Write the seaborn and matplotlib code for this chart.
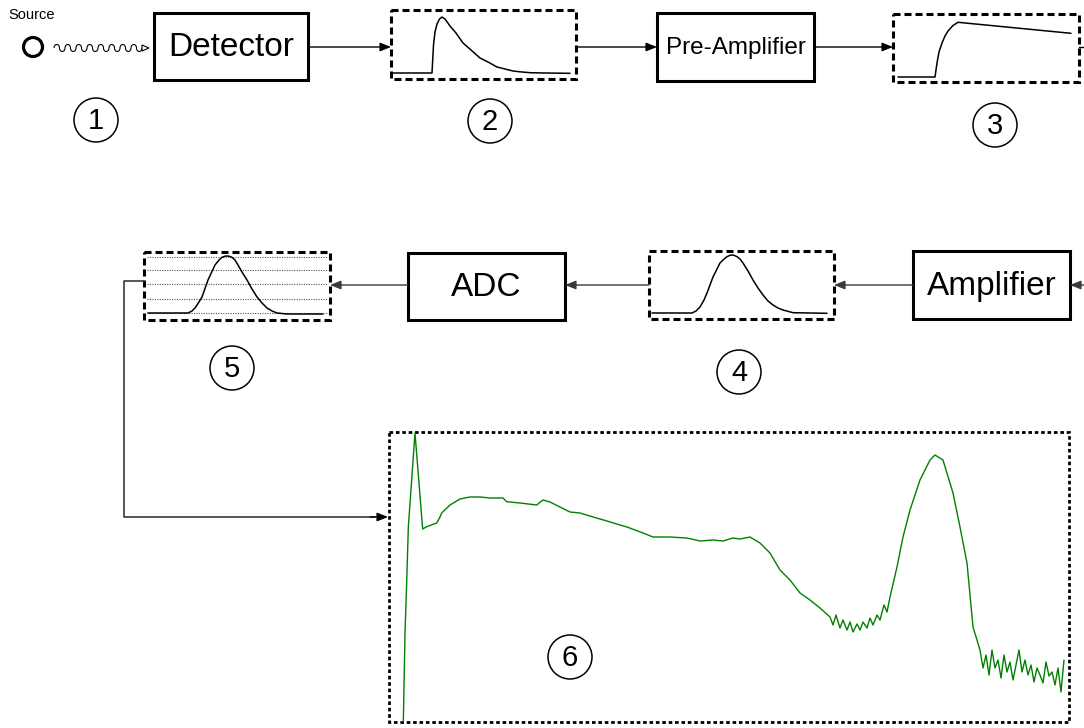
import matplotlib
matplotlib.use("Agg")
import matplotlib.pyplot as plt
from matplotlib.patches import Rectangle, Circle, Arc, Polygon
import seaborn as sns

# ---------------- data ----------------
# schematic pulse shapes (pixel-space sketch points)
pulse2_x = [393, 432, 432.7, 433.5, 435, 437, 439.5, 442, 445, 450, 456, 463, 471, 480,
            488, 497, 505, 513, 520, 530, 545, 570]
pulse2_y = [73, 73, 60, 45, 32, 24, 19, 17, 19, 26, 33, 43, 50, 58, 62, 67, 69, 71,
            71.8, 72.7, 73, 73.3]

pulse3_x = [898, 935, 936, 937, 939, 942, 945, 948, 953, 958, 1071]
pulse3_y = [77, 77, 70, 63, 52, 43, 36, 31, 25.5, 22.3, 33.3]

gauss4_x = [652, 692, 696, 700, 704, 707, 713, 720, 724, 727, 730, 732, 734, 737, 740, 743,
            748, 753, 758, 763, 768, 773, 778, 783, 793, 827]
gauss4_y = [313, 313, 311, 307, 300, 293, 277, 263, 259, 256.7, 255.3, 255, 255.3, 256.7,
            259, 263, 271, 280, 288, 295, 301, 305, 308, 310, 312.7, 313.3]

gauss5_x = [148, 188, 192, 195, 199, 202, 208, 215, 219, 222, 225, 227, 229, 232, 235, 238,
            242, 247, 252, 257, 262, 267, 272, 277, 287, 323]
gauss5_y = [313, 313, 311, 308, 302, 297, 280, 265, 260, 257.3, 256.2, 256, 256.2, 257.3,
            260, 265, 272, 280, 289, 297, 303, 308, 311, 313, 314, 314]
adc_levels = [257, 270, 284, 299, 313]

# measured spectrum (channel, counts)
channel = [21.5, 24, 26.5, 29, 39, 50.5, 56.5, 71.5, 76.5, 79, 91.5, 106.5, 121.5, 136.5,
           151.5, 171, 176.5, 196.5, 221.5, 231, 241.5, 256.5, 271.5, 286.5, 306, 327,
           346.5, 357, 381, 396, 421.5, 447, 466.5, 486, 501, 516, 526.5, 541.5, 556.5,
           571.5, 586.5, 601.5, 616.5, 631.5, 646.5,
           661.5, 666, 670.5, 676.5, 681, 687, 691.5, 696, 702, 706.5, 711, 717, 721.5,
           726, 732, 736.5, 742.5, 747,
           751.5, 762, 771, 781.5, 796.5, 811.5, 819, 831, 846, 856.5, 867, 876, 882,
           886.5, 891, 895.5, 900, 904.5, 909, 913.5, 918, 922.5, 927, 931.5, 936, 940.5,
           945, 949.5, 954, 958.5, 963, 967.5, 972, 976.5, 981, 985.5, 990, 994.5, 999,
           1003.5, 1008, 1012.5]
counts = [0, 890, 1390, 1950, 2890, 1930, 1953, 1990, 2050, 2090, 2170, 2230, 2250, 2250,
          2240, 2240, 2203, 2190, 2170, 2220, 2200, 2150, 2100, 2090, 2050, 2010,
          1970, 1950, 1890, 1850, 1850, 1840, 1810, 1820, 1810, 1840, 1830, 1850, 1790,
          1690, 1520, 1420, 1290, 1220, 1140,
          1050, 970, 1070, 940, 1020, 920, 1000, 900, 980, 920, 1000, 940, 1040,
          970, 1070, 1020, 1170, 1100,
          1250, 1550, 1850, 2120, 2420, 2620, 2670, 2620, 2290, 1950, 1590, 950, 820,
          720, 540, 670, 470, 720, 540, 620, 440, 670, 500, 600, 420, 570,
          720, 500, 620, 470, 570, 400, 540, 470, 390, 600, 460, 500, 370,
          540, 300, 620]

box_labels = ["Detector", "Pre-Amplifier", "Amplifier", "ADC"]
step_labels = ["1", "2", "3", "4", "5", "6"]

# ---------------- style ----------------
sns.set_theme(style="white")
plt.rcParams["font.family"] = ["Liberation Sans", "DejaVu Sans"]

W, H = 1084, 728
fig = plt.figure(figsize=(W / 100, H / 100), dpi=100)
ax = fig.add_axes([0, 0, 1, 1])
ax.set_axis_off()

BOX_LW = 2.2
DASH = (0, (2.3, 1.3))


def solid_box(x0, y0, x1, y1, label, fs):
    ax.add_patch(Rectangle((x0, y0), x1 - x0, y1 - y0, fill=False, ec="black", lw=BOX_LW))
    ax.text((x0 + x1) / 2, (y0 + y1) / 2 + 1, label, ha="center", va="center",
            fontsize=fs, color="black")


def dashed_box(x0, y0, x1, y1, lw=BOX_LW, ls=DASH):
    ax.add_patch(Rectangle((x0, y0), x1 - x0, y1 - y0, fill=False, ec="black", lw=lw,
                           linestyle=ls))


def arrow(x0, y0, x1, y1, color="black"):
    ax.annotate("", xy=(x1, y1), xytext=(x0, y0),
                arrowprops=dict(arrowstyle="-|>,head_length=0.5,head_width=0.2",
                                color=color, lw=1.0, mutation_scale=13,
                                shrinkA=0, shrinkB=0))


def step(cx, cy, label):
    ax.add_patch(Circle((cx, cy), 22, fill=False, ec="black", lw=1.1))
    ax.text(cx, cy + 1, label, ha="center", va="center", fontsize=21, color="black")


# Source
ax.text(8, 15, "Source", ha="left", va="center", fontsize=10.5, color="black")
ax.add_patch(Circle((33, 47), 9.5, fill=False, ec="black", lw=2.3))
for i in range(16):
    cx = 54 + i * 5.5 + 2.75
    if i % 2 == 0:
        ax.add_patch(Arc((cx, 48), 5.5, 7, theta1=180, theta2=360, color="black", lw=0.8))
    else:
        ax.add_patch(Arc((cx, 48), 5.5, 7, theta1=0, theta2=180, color="black", lw=0.8))
ax.add_patch(Polygon([(142, 45), (149, 48), (142, 51)], closed=True,
                     fc="white", ec="black", lw=0.8))

# Row 1
solid_box(154, 13, 308, 80, box_labels[0], 24)
arrow(308, 47, 391, 47)
dashed_box(391, 10, 576, 79)
sns.lineplot(x=pulse2_x, y=pulse2_y, ax=ax, sort=False, estimator=None,
             color="black", lw=1.1)
arrow(576, 47, 657, 47)
solid_box(657, 13, 814, 81, box_labels[1], 17.5)
arrow(814, 47, 893, 47)
dashed_box(893, 14, 1079, 82)
sns.lineplot(x=pulse3_x, y=pulse3_y, ax=ax, sort=False, estimator=None,
             color="black", lw=1.1)
ax.plot([1079, 1084], [47, 47], color="black", lw=1.0)

step(96, 120, step_labels[0])
step(490, 121, step_labels[1])
step(995, 125, step_labels[2])

# Row 2
GRAY = "#3a3a3a"
solid_box(913, 251, 1070, 319, box_labels[2], 24)
arrow(1084, 285, 1070, 285, GRAY)
arrow(913, 285, 834, 285, GRAY)
dashed_box(649, 251, 834, 319)
sns.lineplot(x=gauss4_x, y=gauss4_y, ax=ax, sort=False, estimator=None,
             color="black", lw=1.1)
arrow(649, 285, 565, 285, GRAY)
solid_box(408, 253, 565, 320, box_labels[3], 24)
arrow(408, 285, 330, 285, GRAY)
dashed_box(144, 252, 330, 320)
for lv in adc_levels:
    ax.plot([147, 328], [lv, lv], color="#555555", lw=0.8, linestyle=(0, (1, 1.2)))
sns.lineplot(x=gauss5_x, y=gauss5_y, ax=ax, sort=False, estimator=None,
             color="black", lw=1.1)

step(739, 372, step_labels[3])
step(232, 368, step_labels[4])

# connector to spectrum
ax.plot([144, 124, 124, 375], [281, 281, 517, 517], color=GRAY, lw=1.2)
arrow(370, 517, 388, 517, "black")

# Spectrum box
dashed_box(389, 432, 1069, 722, lw=2.0, ls=(0, (1.3, 1.0)))
step(570, 657, step_labels[5])

ax.set_xlim(0, W)
ax.set_ylim(H, 0)

# spectrum axes
ax2 = fig.add_axes([389 / W, (H - 722) / H, 680 / W, 290 / H])
ax2.patch.set_alpha(0)
sns.lineplot(x=channel, y=counts, ax=ax2, sort=False, estimator=None,
             color="#008000", lw=1.0)
ax2.set_xlim(0, 1020)
ax2.set_ylim(0, 2900)
ax2.set_axis_off()

fig.savefig("out.png", dpi=100)
